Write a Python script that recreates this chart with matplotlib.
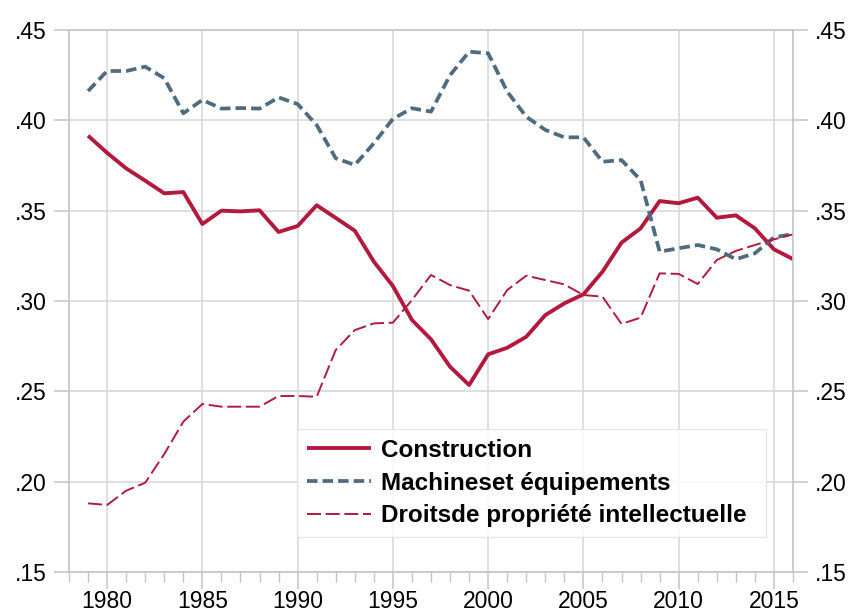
import matplotlib
matplotlib.use("Agg")
import matplotlib.pyplot as plt
from matplotlib.ticker import MultipleLocator, FuncFormatter

# Data (shares, 1979-2016)
years = list(range(1979, 2017))

construction = [0.3915, 0.382, 0.3734, 0.3666, 0.3596, 0.3603, 0.3426, 0.350, 0.3496, 0.3502,
                0.3382, 0.3415, 0.353, 0.346, 0.3389, 0.3218, 0.3083, 0.2895, 0.2788, 0.2636,
                0.2535, 0.2705, 0.2741, 0.2802, 0.2922, 0.2987, 0.3037, 0.3162, 0.3323, 0.3402,
                0.3553, 0.3541, 0.3572, 0.3461, 0.3474, 0.3402, 0.3286, 0.3232]

machines = [0.4162, 0.4273, 0.4273, 0.4297, 0.4233, 0.4039, 0.4113, 0.4065, 0.4068, 0.4065,
            0.4127, 0.409, 0.3974, 0.379, 0.3753, 0.3873, 0.4008, 0.4067, 0.4048, 0.425,
            0.438, 0.4371, 0.4159, 0.402, 0.3947, 0.3906, 0.3906, 0.3771, 0.378, 0.367,
            0.3273, 0.3292, 0.331, 0.3286, 0.3231, 0.3264, 0.3352, 0.3371]

droits = [0.188, 0.1871, 0.195, 0.1994, 0.2153, 0.2332, 0.243, 0.2415, 0.2415, 0.2415,
          0.2474, 0.2474, 0.247, 0.2729, 0.2839, 0.2876, 0.288, 0.3005, 0.3144, 0.3088,
          0.3057, 0.290, 0.3061, 0.314, 0.3116, 0.3092, 0.3033, 0.3024, 0.2873, 0.2908,
          0.3153, 0.315, 0.3094, 0.3227, 0.3277, 0.331, 0.3341, 0.3369]

labels = ["Construction", "Machineset équipements", "Droitsde propriété intellectuelle"]

plt.rcParams['font.family'] = ['Liberation Sans', 'DejaVu Sans']

red = "#b3193c"
slate = "#4f6b7f"
grid_col = "#d6d6d6"
spine_col = "#c4c4c4"

fig = plt.figure(figsize=(8.5, 6.12), dpi=100)
ax = fig.add_axes([69 / 850, 40 / 612, (793 - 69) / 850, (572 - 30) / 612])

ax.plot(years, construction, color=red, lw=2.8, solid_capstyle='butt', label=labels[0])
ax.plot(years, machines, color=slate, lw=2.7, dashes=(2.8, 1.35), label=labels[1])
ax.plot(years, droits, color=red, lw=1.4, dashes=(7.2, 2.4), label=labels[2])

ax.set_xlim(1978, 2016)
ax.set_ylim(0.15, 0.45)
ax.xaxis.set_major_locator(MultipleLocator(5))
ax.xaxis.set_minor_locator(MultipleLocator(1))
ax.yaxis.set_major_locator(MultipleLocator(0.05))
ax.yaxis.set_major_formatter(FuncFormatter(lambda v, p: f"{v:.2f}".lstrip("0")))

ax.grid(True, which='major', color=grid_col, lw=1.1)
ax.set_axisbelow(True)
for s in ax.spines.values():
    s.set_color(spine_col)
    s.set_linewidth(1.2)

ax.tick_params(axis='y', which='major', direction='out', length=11, width=1.1, color=spine_col,
               labelsize=16.5, pad=5, right=True, labelright=True)
ax.tick_params(axis='x', which='major', direction='out', length=12, width=1.1, color=spine_col,
               labelsize=16.5, pad=1)
ax.tick_params(axis='x', which='minor', direction='out', length=7, width=1.0, color=spine_col)

leg = ax.legend(loc='lower left', bbox_to_anchor=(297 / 850, (612 - 537) / 612, (766 - 297) / 850, (537 - 425) / 612),
                bbox_transform=fig.transFigure, mode='expand', frameon=True, fancybox=False,
                prop={'weight': 'bold', 'size': 17.5}, handlelength=2.65, handletextpad=0.42,
                labelspacing=0.4, borderpad=0.4, borderaxespad=0)
leg.get_frame().set_edgecolor("#e2e2e2")
leg.get_frame().set_linewidth(1.0)

fig.savefig("out.png", dpi=100)
